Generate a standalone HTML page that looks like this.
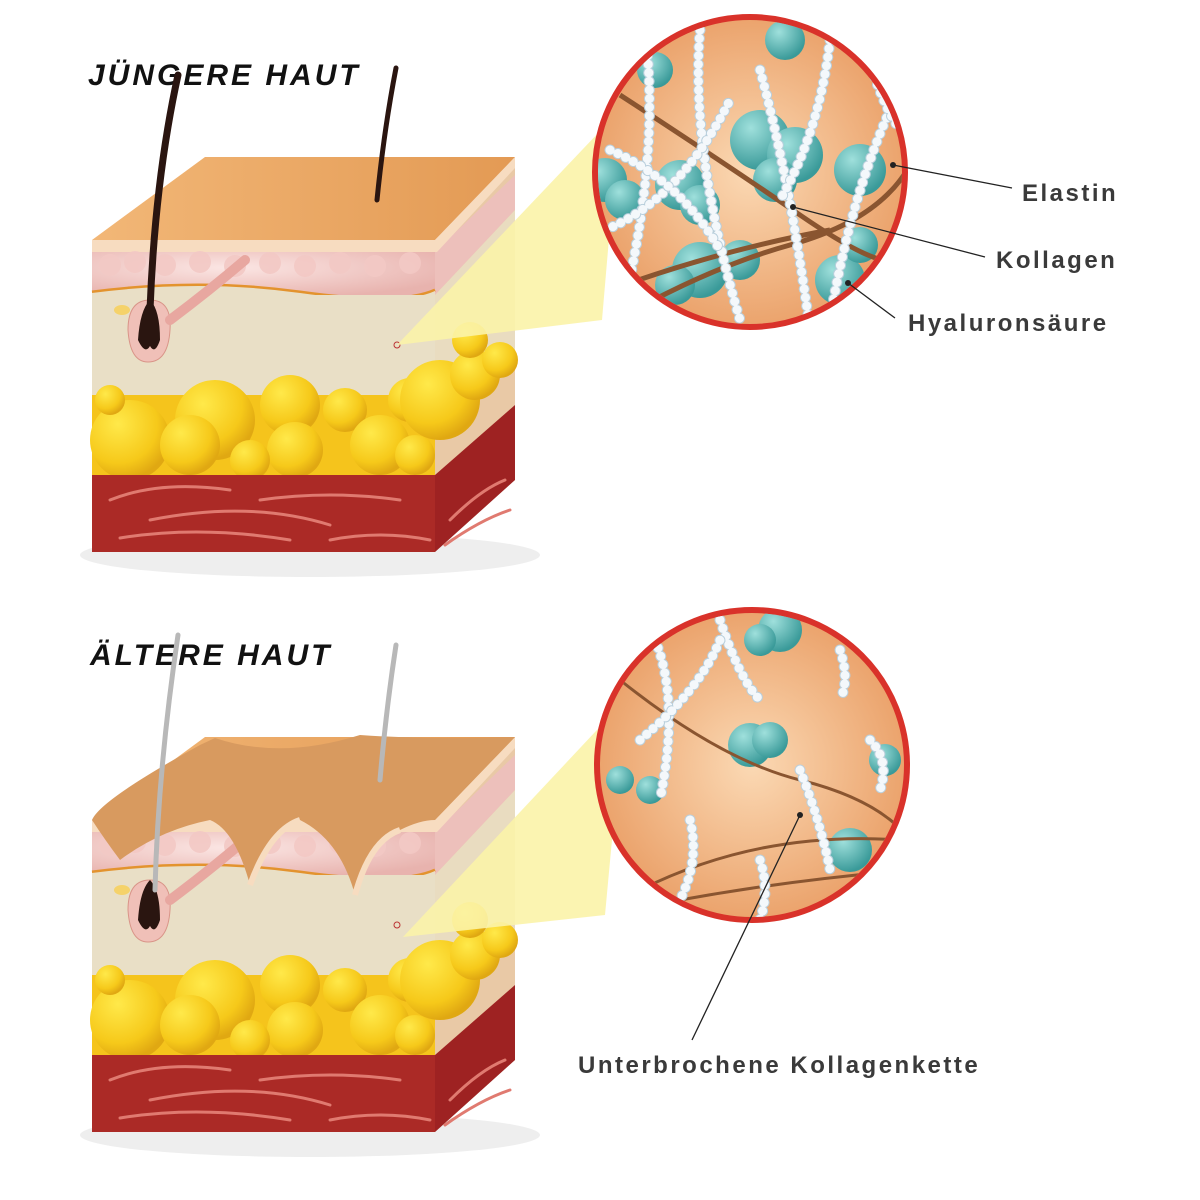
<!DOCTYPE html><html><head><style>body{margin:0;background:#fff}svg{display:block}
.t{font-family:"Liberation Sans",sans-serif;font-weight:bold;fill:#3a3a3a;font-size:24px;letter-spacing:2.5px}
.h{font-family:"Liberation Sans",sans-serif;font-weight:bold;font-style:italic;fill:#111;font-size:30px;letter-spacing:3px}
.bd{stroke:#f4f8fb;stroke-width:9;fill:none;stroke-linecap:round;stroke-dasharray:0.1 8.5}
.bo{stroke:#b9cfdc;stroke-width:11;fill:none;stroke-linecap:round;stroke-dasharray:0.1 8.5}
</style></head><body>
<svg width="1200" height="1200" viewBox="0 0 1200 1200" xmlns="http://www.w3.org/2000/svg">
<defs>
<radialGradient id="fat" cx="0.35" cy="0.3" r="0.7"><stop offset="0" stop-color="#ffe94a"/><stop offset="0.7" stop-color="#f6c91a"/><stop offset="1" stop-color="#e0a812"/></radialGradient>
<radialGradient id="pk" cx="0.4" cy="0.35" r="0.7"><stop offset="0" stop-color="#fbe6e4"/><stop offset="1" stop-color="#e8b3ae"/></radialGradient>
<linearGradient id="top" x1="0" y1="0" x2="1" y2="0"><stop offset="0" stop-color="#f2b777"/><stop offset="1" stop-color="#e39a54"/></linearGradient>
<radialGradient id="circ" cx="0.5" cy="0.5" r="0.5"><stop offset="0" stop-color="#fbd9b4"/><stop offset="1" stop-color="#eba36c"/></radialGradient>
<radialGradient id="teal" cx="0.35" cy="0.3" r="0.7"><stop offset="0" stop-color="#9fe0dc"/><stop offset="1" stop-color="#3a9a99"/></radialGradient>
<clipPath id="c1"><circle cx="750" cy="172" r="152"/></clipPath>
<clipPath id="c2"><circle cx="752" cy="765" r="152"/></clipPath>
<g id="block">
<ellipse cx="310" cy="555" rx="230" ry="22" fill="#eee"/>
<polygon points="435,240 515,157 515,480 435,552" fill="#e9c9a6"/>
<polygon points="435,252 515,175 515,210 435,295" fill="#edc0bb"/>
<polygon points="435,295 515,210 515,350 435,395" fill="#e9dcc0"/>
<polygon points="435,475 515,405 515,480 435,552" fill="#9e2222"/>
<polygon points="205,157 515,157 435,240 92,240" fill="url(#top)"/>
<polygon points="92,240 435,240 515,157 515,168 437,252 92,252" fill="#f7dcc0"/>
<rect x="92" y="252" width="343" height="45" fill="url(#pk)"/>
<g fill="#f3c9c5" opacity="0.9"><circle cx="110" cy="265" r="11"/><circle cx="135" cy="262" r="11"/><circle cx="165" cy="265" r="11"/><circle cx="200" cy="262" r="11"/><circle cx="235" cy="266" r="11"/><circle cx="270" cy="263" r="11"/><circle cx="305" cy="266" r="11"/><circle cx="340" cy="263" r="11"/><circle cx="375" cy="266" r="11"/><circle cx="410" cy="263" r="11"/></g>
<path d="M92,292 Q200,278 300,292 T435,290" stroke="#e3932e" stroke-width="3" fill="none"/>
<rect x="92" y="295" width="343" height="100" fill="#e9dfc6"/>
<path d="M92,293 Q200,279 300,293 T435,291 L435,300 L92,300Z" fill="#e9dfc6"/>
<rect x="92" y="395" width="343" height="80" fill="#f5c41c"/>
<g fill="url(#fat)">
<circle cx="130" cy="440" r="40"/><circle cx="110" cy="400" r="15"/><circle cx="215" cy="420" r="40"/><circle cx="190" cy="445" r="30"/><circle cx="290" cy="405" r="30"/><circle cx="295" cy="450" r="28"/><circle cx="345" cy="410" r="22"/><circle cx="380" cy="445" r="30"/><circle cx="410" cy="400" r="22"/><circle cx="440" cy="400" r="40"/><circle cx="475" cy="375" r="25"/><circle cx="500" cy="360" r="18"/><circle cx="470" cy="340" r="18"/><circle cx="250" cy="460" r="20"/><circle cx="415" cy="455" r="20"/></g>
<rect x="92" y="475" width="343" height="77" fill="#ab2a26"/>
<g stroke="#e07a70" stroke-width="3" fill="none" stroke-linecap="round">
<path d="M110,500 Q160,480 230,490"/><path d="M150,520 Q250,500 330,525"/><path d="M260,500 Q330,490 400,500"/><path d="M120,538 Q200,525 290,540"/><path d="M330,540 Q380,530 430,540"/><path d="M450,520 Q480,490 505,480"/><path d="M445,545 Q480,520 510,510"/></g>
<path d="M128,330 Q128,300 150,300 Q172,300 170,330 Q168,362 148,362 Q130,362 128,330Z" fill="#f0c0b8" stroke="#d99488"/>
<path d="M138,340 Q140,310 150,300 Q160,310 160,340 Q155,355 150,346 Q145,355 138,340Z" fill="#2a1510"/>
<path d="M170,320 Q210,290 245,260" stroke="#e8a7a0" stroke-width="10" stroke-linecap="round"/>
<ellipse cx="122" cy="310" rx="8" ry="5" fill="#f5d26a"/>
<circle cx="397" cy="345" r="3" fill="none" stroke="#b33" stroke-width="1"/>
</g>
</defs>

<text x="88" y="85" class="h">JÜNGERE HAUT</text>
<use href="#block"/>
<path d="M150,310 Q155,180 178,75" stroke="#2a1510" stroke-width="7" fill="none" stroke-linecap="round"/>
<path d="M377,200 Q384,130 396,68" stroke="#2a1510" stroke-width="5" fill="none" stroke-linecap="round"/>
<polygon points="397,345 620,110 602,320" fill="#fbf3a8" opacity="0.9"/>
<circle cx="750" cy="172" r="155" fill="url(#circ)" stroke="#d9322a" stroke-width="6"/>
<g clip-path="url(#c1)">
<g fill="url(#teal)"><circle cx="605" cy="180" r="22"/><circle cx="625" cy="200" r="20"/><circle cx="680" cy="185" r="25"/><circle cx="700" cy="205" r="20"/><circle cx="760" cy="140" r="30"/><circle cx="795" cy="155" r="28"/><circle cx="775" cy="180" r="22"/><circle cx="860" cy="170" r="26"/><circle cx="700" cy="270" r="28"/><circle cx="675" cy="285" r="20"/><circle cx="740" cy="260" r="20"/><circle cx="840" cy="280" r="25"/><circle cx="860" cy="245" r="18"/><circle cx="785" cy="40" r="20"/><circle cx="655" cy="70" r="18"/></g>
<g stroke="#8a5530" stroke-width="5" fill="none"><path d="M620,95 Q720,160 800,215 T900,260"/><path d="M600,330 Q700,270 790,245 T910,165"/><path d="M610,290 Q720,250 830,230"/></g>
<g>
<path class="bo" d="M645,30 Q660,150 625,300"/><path class="bd" d="M645,30 Q660,150 625,300"/>
<path class="bo" d="M700,30 Q690,150 740,320"/><path class="bd" d="M700,30 Q690,150 740,320"/>
<path class="bo" d="M760,70 Q790,180 810,330"/><path class="bd" d="M760,70 Q790,180 810,330"/>
<path class="bo" d="M830,40 Q820,130 780,200"/><path class="bd" d="M830,40 Q820,130 780,200"/>
<path class="bo" d="M890,110 Q850,200 830,320"/><path class="bd" d="M890,110 Q850,200 830,320"/>
<path class="bo" d="M605,230 Q680,200 730,100"/><path class="bd" d="M605,230 Q680,200 730,100"/>
<path class="bo" d="M610,150 Q680,180 720,250"/><path class="bd" d="M610,150 Q680,180 720,250"/>
<path class="bo" d="M870,60 Q880,100 900,130"/><path class="bd" d="M870,60 Q880,100 900,130"/>
</g>
</g>

<text x="90" y="665" class="h">ÄLTERE HAUT</text>
<g transform="translate(0,580)"><use href="#block"/></g>
<path d="M92,820 Q100,800 200,745 L215,738 Q280,760 360,735 Q430,740 515,737 L435,820 Q420,820 400,830 Q370,840 355,895 Q340,840 300,820 Q270,830 250,885 Q235,830 210,820 Q160,830 120,860 Q105,840 92,820Z" fill="#d89a5f"/>
<path d="M250,885 Q270,830 300,820 M355,895 Q370,840 400,830" stroke="#f7dcc0" stroke-width="6" fill="none"/>
<path d="M155,890 Q158,770 178,635" stroke="#b8b8b8" stroke-width="5" fill="none" stroke-linecap="round"/>
<path d="M380,780 Q386,710 396,645" stroke="#b8b8b8" stroke-width="5" fill="none" stroke-linecap="round"/>
<polygon points="403,937 625,700 605,915" fill="#fbf3a8" opacity="0.9"/>
<circle cx="752" cy="765" r="155" fill="url(#circ)" stroke="#d9322a" stroke-width="6"/>
<g clip-path="url(#c2)">
<g fill="url(#teal)"><circle cx="780" cy="630" r="22"/><circle cx="760" cy="640" r="16"/><circle cx="750" cy="745" r="22"/><circle cx="770" cy="740" r="18"/><circle cx="620" cy="780" r="14"/><circle cx="650" cy="790" r="14"/><circle cx="885" cy="760" r="16"/><circle cx="850" cy="850" r="22"/></g>
<g stroke="#8a5530" stroke-width="3" fill="none"><path d="M620,680 Q720,760 800,780 T910,840"/><path d="M640,890 Q760,830 900,840"/><path d="M680,900 Q790,880 910,870"/></g>
<g>
<path class="bo" d="M655,640 Q680,700 660,800"/><path class="bd" d="M655,640 Q680,700 660,800"/>
<path class="bo" d="M720,620 Q740,680 760,700"/><path class="bd" d="M720,620 Q740,680 760,700"/>
<path class="bo" d="M640,740 Q700,690 720,640"/><path class="bd" d="M640,740 Q700,690 720,640"/>
<path class="bo" d="M800,770 Q820,820 830,870"/><path class="bd" d="M800,770 Q820,820 830,870"/>
<path class="bo" d="M690,820 Q700,860 680,900"/><path class="bd" d="M690,820 Q700,860 680,900"/>
<path class="bo" d="M760,860 Q770,890 760,920"/><path class="bd" d="M760,860 Q770,890 760,920"/>
<path class="bo" d="M840,650 Q850,680 840,700"/><path class="bd" d="M840,650 Q850,680 840,700"/>
<path class="bo" d="M870,740 Q890,760 880,790"/><path class="bd" d="M870,740 Q890,760 880,790"/>
</g>
</g>

<g stroke="#222" stroke-width="1.3"><line x1="893" y1="165" x2="1012" y2="188"/><line x1="793" y1="207" x2="985" y2="257"/><line x1="848" y1="283" x2="895" y2="318"/><line x1="800" y1="815" x2="692" y2="1040"/></g>
<g fill="#222"><circle cx="893" cy="165" r="3"/><circle cx="793" cy="207" r="3"/><circle cx="848" cy="283" r="3"/><circle cx="800" cy="815" r="3"/></g>
<text x="1022" y="201" class="t">Elastin</text>
<text x="996" y="268" class="t">Kollagen</text>
<text x="908" y="331" class="t">Hyaluronsäure</text>
<text x="578" y="1073" class="t">Unterbrochene Kollagenkette</text>
</svg>
</body></html>
